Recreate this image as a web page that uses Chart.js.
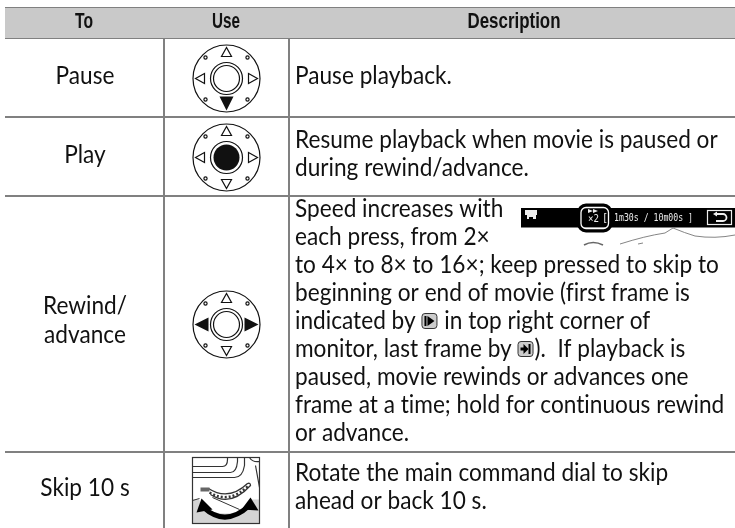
<!DOCTYPE html>
<html>
<head>
<meta charset="utf-8">
<style>
  html, body { margin: 0; padding: 0; background: #fff; }
  #tabela { display: block; }
</style>
<script src="https://cdn.jsdelivr.net/npm/chart.js@4"></script>
</head>
<body>
<div style="width:735px;height:528px"><canvas id="tabela" width="735" height="528"></canvas></div>
<script>
// table content
const columnTitles = ["To", "Use", "Description"];
const actionLabels = [["Pause"], ["Play"], ["Rewind/", "advance"], ["Skip 10 s"]];
// {first} and {last} are the small frame glyphs inside the text
const descriptions = [
  ["Pause playback."],
  ["Resume playback when movie is paused or", "during rewind/advance."],
  ["Speed increases with", "each press, from 2×", "to 4× to 8× to 16×; keep pressed to skip to",
   "beginning or end of movie (first frame is", "indicated by {first} in top right corner of",
   "monitor, last frame by {last}).  If playback is",
   "paused, movie rewinds or advances one", "frame at a time; hold for continuous rewind", "or advance."],
  ["Rotate the main command dial to skip", "ahead or back 10 s."],
];
// rules of the table, in axis units
const columnEdges = [5, 164, 289, 735];
const rowEdges = [8, 38, 117, 196, 452, 528];

const ink = "#111111";
const bodyFont = '25px Lato';
const headFont = 'bold 22px "Liberation Sans"';
const squeeze = 0.905; // Lato runs wider than the original face

function triangle(ctx, x1, y1, x2, y2, x3, y3, filled) {
  ctx.beginPath();
  ctx.moveTo(x1, y1); ctx.lineTo(x2, y2); ctx.lineTo(x3, y3); ctx.closePath();
  if (filled) ctx.fill(); else ctx.stroke();
}

// multi selector, mode says which part is black
function selector(ctx, cx, cy, mode) {
  ctx.save();
  ctx.strokeStyle = ink; ctx.fillStyle = ink; ctx.lineWidth = 1.2;
  ctx.beginPath(); ctx.arc(cx, cy, 33.5, 0, Math.PI * 2); ctx.stroke();
  ctx.beginPath(); ctx.arc(cx, cy, 16, 0, Math.PI * 2); ctx.stroke();
  ctx.beginPath(); ctx.arc(cx, cy, 13, 0, Math.PI * 2);
  if (mode === "center") ctx.fill(); else ctx.stroke();
  [[-1, -1], [1, -1], [-1, 1], [1, 1]].forEach(d => {
    ctx.beginPath(); ctx.arc(cx + d[0] * 21, cy + d[1] * 21, 1.6, 0, Math.PI * 2); ctx.stroke();
  });
  triangle(ctx, cx, cy - 31, cx - 5, cy - 22, cx + 5, cy - 22, false);
  if (mode === "down") triangle(ctx, cx, cy + 32, cx - 7, cy + 18, cx + 7, cy + 18, true);
  else triangle(ctx, cx, cy + 31, cx - 5, cy + 22, cx + 5, cy + 22, false);
  if (mode === "sides") {
    triangle(ctx, cx - 32, cy, cx - 18, cy - 7, cx - 18, cy + 7, true);
    triangle(ctx, cx + 32, cy, cx + 18, cy - 7, cx + 18, cy + 7, true);
  } else {
    triangle(ctx, cx - 31, cy, cx - 22, cy - 5, cx - 22, cy + 5, false);
    triangle(ctx, cx + 31, cy, cx + 22, cy - 5, cx + 22, cy + 5, false);
  }
  ctx.restore();
}

// main command dial picture
function dial(ctx, x, y) {
  ctx.save();
  ctx.fillStyle = "#d4d4d4";
  ctx.fillRect(x, y + 42, 67, 24);
  ctx.fillStyle = "#fff";
  ctx.beginPath(); ctx.ellipse(x + 33, y + 42, 26, 14, 0, 0, Math.PI * 2); ctx.fill();
  ctx.strokeStyle = "#333"; ctx.lineWidth = 1.2;
  ctx.strokeRect(x, y, 67, 66);
  ctx.beginPath();
  ctx.moveTo(x, y + 9); ctx.lineTo(x + 30, y + 9); ctx.quadraticCurveTo(x + 35, y + 9, x + 35, y + 2); ctx.lineTo(x + 35, y);
  ctx.moveTo(x, y + 15); ctx.lineTo(x + 38, y + 15); ctx.quadraticCurveTo(x + 44, y + 15, x + 45, y + 4); ctx.lineTo(x + 45, y);
  ctx.moveTo(x, y + 20); ctx.lineTo(x + 42, y + 20); ctx.quadraticCurveTo(x + 50, y + 20, x + 52, y + 8); ctx.lineTo(x + 52, y);
  ctx.moveTo(x + 57, y); ctx.quadraticCurveTo(x + 60, y + 5, x + 67, y + 4);
  ctx.moveTo(x + 63, y + 8); ctx.lineTo(x + 67, y + 30);
  ctx.stroke();
  // dial edge
  ctx.lineWidth = 1.3;
  ctx.beginPath();
  ctx.moveTo(x + 16, y + 31); ctx.quadraticCurveTo(x + 36, y + 44, x + 55, y + 26);
  ctx.quadraticCurveTo(x + 58, y + 25, x + 58, y + 28);
  ctx.quadraticCurveTo(x + 38, y + 50, x + 18, y + 37);
  ctx.stroke();
  ctx.setLineDash([2, 2]);
  ctx.lineWidth = 2.5;
  ctx.beginPath(); ctx.moveTo(x + 17, y + 35); ctx.quadraticCurveTo(x + 37, y + 47, x + 56, y + 28); ctx.stroke();
  ctx.setLineDash([]);
  ctx.fillStyle = "#666";
  ctx.fillRect(x + 8, y + 30, 9, 4);
  ctx.lineWidth = 1;
  ctx.beginPath(); ctx.moveTo(x + 20, y + 40); ctx.lineTo(x + 47, y + 52); ctx.stroke();
  ctx.beginPath(); ctx.moveTo(x, y + 43); ctx.lineTo(x + 7, y + 41); ctx.stroke();
  // arrow
  ctx.strokeStyle = "#000";
  ctx.lineWidth = 5;
  ctx.beginPath(); ctx.moveTo(x + 11, y + 50); ctx.quadraticCurveTo(x + 33, y + 70, x + 57, y + 48); ctx.stroke();
  ctx.fillStyle = "#000";
  triangle(ctx, x + 9, y + 41, x + 4, y + 55, x + 20, y + 52, true);
  triangle(ctx, x + 58, y + 40, x + 66, y + 53, x + 49, y + 52, true);
  ctx.restore();
}

// little monitor strip with the 2x speed circled
function monitorStrip(ctx) {
  ctx.save();
  ctx.fillStyle = "#000";
  ctx.fillRect(521, 208, 214, 19.5);
  ctx.strokeStyle = "#777"; ctx.lineWidth = 0.9;
  ctx.beginPath();
  ctx.moveTo(620, 244); ctx.quadraticCurveTo(645, 236, 665, 233);
  ctx.lineTo(673, 228); ctx.quadraticCurveTo(685, 233, 695, 236);
  ctx.quadraticCurveTo(715, 239, 735, 235);
  ctx.moveTo(638, 244); ctx.lineTo(643, 243);
  ctx.stroke();
  ctx.strokeStyle = "#666"; ctx.lineWidth = 1.6;
  ctx.beginPath(); ctx.moveTo(584, 245); ctx.quadraticCurveTo(593, 240, 603, 245); ctx.stroke();
  ctx.fillStyle = "#eee";
  ctx.fillRect(525, 210, 12, 5); ctx.fillRect(527, 215, 9, 2); ctx.fillRect(527, 217, 2, 2); ctx.fillRect(533, 217, 3, 2);
  ctx.font = '10px "DejaVu Sans Mono"';
  ctx.textAlign = "left"; ctx.textBaseline = "alphabetic";
  ctx.fillText("×2", 588, 222, 11);
  ctx.fillText("[", 602, 221);
  ctx.font = '11px "DejaVu Sans Mono"';
  ctx.fillText("1m30s / 10m00s ]", 614, 220.5, 79);
  triangle(ctx, 588, 209, 588, 213, 593, 211, true);
  triangle(ctx, 593, 209, 593, 213, 598, 211, true);
  ctx.strokeStyle = "#000"; ctx.lineWidth = 4;
  ctx.beginPath(); ctx.roundRect(579, 205.5, 31.5, 25, 7); ctx.stroke();
  ctx.strokeStyle = "#fff"; ctx.lineWidth = 1.3;
  ctx.beginPath(); ctx.roundRect(581, 207.5, 27.5, 21, 5); ctx.stroke();
  ctx.strokeStyle = "#eee"; ctx.lineWidth = 1.2;
  ctx.strokeRect(707.5, 210.5, 24, 14);
  ctx.lineWidth = 1.8;
  ctx.beginPath(); ctx.moveTo(715, 214); ctx.lineTo(723, 214); ctx.arc(723, 217.5, 3.5, -Math.PI / 2, Math.PI / 2); ctx.lineTo(716, 221); ctx.stroke();
  triangle(ctx, 713, 214, 717, 211.5, 717, 216.5, true);
  ctx.restore();
}

// first / last frame glyphs inside the text
function frameGlyph(ctx, x, y, last) {
  ctx.save();
  ctx.fillStyle = "#ccc";
  ctx.strokeStyle = "#333"; ctx.lineWidth = 1;
  ctx.beginPath(); ctx.roundRect(x + 0.5, y + 0.5, 15, 15, 3); ctx.fill(); ctx.stroke();
  ctx.fillStyle = "#000";
  if (last) {
    ctx.fillRect(x + 3, y + 6.5, 5, 3);
    triangle(ctx, x + 6, y + 3, x + 6, y + 13, x + 11, y + 8, true);
    ctx.fillRect(x + 11, y + 3, 2, 10);
  } else {
    ctx.fillRect(x + 3, y + 3, 2, 10);
    triangle(ctx, x + 6, y + 3, x + 6, y + 13, x + 13, y + 8, true);
  }
  ctx.restore();
}

function squeezedText(ctx, text, x, y) {
  const w = ctx.measureText(text).width * squeeze;
  ctx.fillText(text, x, y, w);
  return w;
}

// one text line, with the glyph markers swapped for the drawing
function flowLine(ctx, text, x, y) {
  text.split(/(\{first\}|\{last\})/).forEach(part => {
    if (part === "{first}" || part === "{last}") {
      frameGlyph(ctx, x, y - 16, part === "{last}");
      x += 17;
    } else {
      x += squeezedText(ctx, part, x, y);
    }
  });
}

const tablePlugin = {
  id: "tablePlugin",
  afterDatasetsDraw(chart) {
    const { ctx, scales } = chart;
    const px = v => scales.x.getPixelForValue(v);
    const py = v => scales.y.getPixelForValue(v);
    ctx.save();
    ctx.fillStyle = ink;
    ctx.textBaseline = "alphabetic";
    ctx.letterSpacing = "0.01px"; // keeps Lato from joining fi and ti

    ctx.font = headFont;
    ctx.textAlign = "center";
    ctx.fillText(columnTitles[0], px(84), py(28), 18);
    ctx.fillText(columnTitles[1], px(226), py(28), 28);
    ctx.fillText(columnTitles[2], px(514), py(28), 93);

    ctx.font = bodyFont;
    const actionBase = [84, 163, 314, 496];
    actionLabels.forEach((lines, r) => {
      lines.forEach((t, i) => squeezedText(ctx, t, px(85), py(actionBase[r] + i * 29)));
    });

    ctx.textAlign = "left";
    const descBase = [84, 148, 217, 481];
    descriptions.forEach((lines, r) => {
      lines.forEach((t, i) => flowLine(ctx, t, px(295), py(descBase[r] + i * 28)));
    });
    ctx.restore();

    selector(ctx, px(226.5), py(78.5), "down");
    selector(ctx, px(226.5), py(157.5), "center");
    selector(ctx, px(226.5), py(324.5), "sides");
    dial(ctx, px(192.5), py(457.5));
    monitorStrip(ctx);
  },
};

new Chart(document.getElementById("tabela"), {
  type: "line",
  data: {
    datasets: [
      {
        label: "Header",
        data: [{ x: columnEdges[0], y: rowEdges[0] }, { x: columnEdges[3], y: rowEdges[0] }],
        backgroundColor: "#c9c9c9",
        borderWidth: 0,
        pointRadius: 0,
        fill: { value: rowEdges[1] },
      },
    ],
  },
  options: {
    responsive: false,
    animation: false,
    layout: { padding: { left: 5, top: 8, right: 0, bottom: 0 } },
    plugins: { legend: { display: false }, title: { display: false }, tooltip: { enabled: false } },
    scales: {
      x: {
        type: "linear", min: columnEdges[0], max: columnEdges[3],
        afterBuildTicks: axis => { axis.ticks = columnEdges.slice(1, 3).map(v => ({ value: v })); },
        grid: { color: "#808080", lineWidth: 2, drawTicks: false },
        border: { display: false },
        ticks: { display: false },
      },
      y: {
        type: "linear", reverse: true, min: rowEdges[0], max: rowEdges[5],
        afterBuildTicks: axis => { axis.ticks = rowEdges.slice(0, 5).map(v => ({ value: v })); },
        grid: { color: "#808080", lineWidth: 2, drawTicks: false },
        border: { display: false },
        ticks: { display: false },
      },
    },
  },
  plugins: [tablePlugin],
});
</script>
</body>
</html>
